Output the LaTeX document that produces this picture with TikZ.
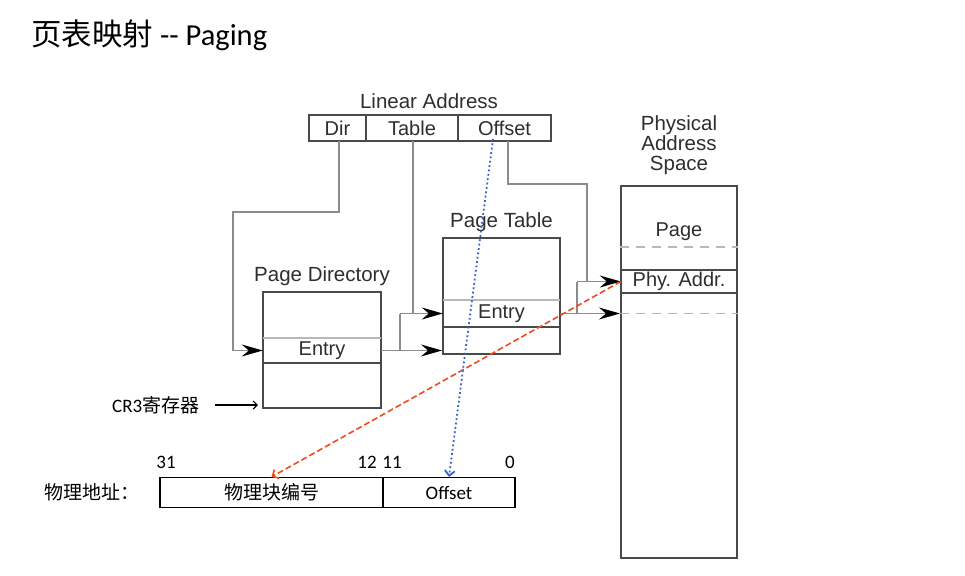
\documentclass[tikz,border=0pt]{standalone}
\usepackage{fontspec}
\setmainfont{Carlito}
\newfontfamily\arialf{Liberation Sans}
\newfontfamily\cjk{Noto Sans CJK SC}
\usetikzlibrary{arrows.meta}
\definecolor{boxgray}{HTML}{4A4A4A}
\definecolor{linkgray}{HTML}{8C8C8C}
\definecolor{rowgray}{HTML}{B8B8B8}
\definecolor{txtgray}{HTML}{2E2E2E}
\definecolor{mapred}{HTML}{F04A1E}
\definecolor{mapblue}{HTML}{3462C8}
\tikzset{
  membox/.style={draw=boxgray, line width=2pt, inner sep=0pt},
  field/.style={inner sep=0pt, font=\arialf\fontsize{20}{22}\selectfont, text=txtgray},
  lbl/.style={inner sep=0pt, font=\arialf\fontsize{20.5}{20}\selectfont, text=txtgray},
  plain/.style={inner sep=0pt, font=\fontsize{19}{21}\selectfont, text=black},
  link/.style={draw=linkgray, line width=1.6pt},
  ptr/.style={link, -{Stealth[length=21pt,width=12pt,inset=7pt,color=black]}},
  rowlight/.style={draw=rowgray, line width=1.6pt},
  rowdark/.style={draw=boxgray, line width=1.6pt},
  rowdash/.style={draw=rowgray, line width=1.6pt, dash pattern=on 9pt off 7pt},
  addrbox/.style={draw=black, line width=1.2pt, minimum height=30pt, inner sep=0pt, font=\fontsize{19}{21}\selectfont},
  redmap/.style={draw=mapred, line width=1.6pt, dash pattern=on 6pt off 3pt, -{Straight Barb[length=5pt,width=10pt]}},
  bluemap/.style={draw=mapblue, line width=1.8pt, dash pattern=on 1.8pt off 2.6pt, -{Straight Barb[length=5pt,width=10pt]}}
}

\begin{document}
\begin{tikzpicture}[x=1pt,y=-1pt]
\useasboundingbox (0,0) rectangle (965,575);
\node[anchor=west, inner sep=0pt, font=\fontsize{30.5}{32}\selectfont] (title) at (31,35) {{\cjk 页表映射} -{}- Paging};

% linear address
\node[field, minimum width=57pt, minimum height=26pt] (fdir) at (337.5,128) {Dir};
\node[field, minimum width=92pt, minimum height=26pt] (ftab) at (412,128) {Table};
\node[field, minimum width=93pt, minimum height=26pt] (foff) at (504.5,128) {Offset};
\draw[rowdark] (fdir.north east) -- (fdir.south east);
\draw[rowdark] (ftab.north east) -- (ftab.south east);
\draw[membox] (fdir.north west) rectangle (foff.south east);
\node[lbl, anchor=south] (linlabel) at ([xshift=17pt,yshift=6pt]ftab.north) {Linear Address};

% page directory
\node[membox, minimum width=118pt, minimum height=116pt] (pd) at (322,350) {};
\node[field, minimum width=118pt, minimum height=25pt] (pdentry) at (322,350.5) {Entry};
\draw[rowlight] (pdentry.north west) -- (pdentry.north east);
\draw[rowdark] (pdentry.south west) -- (pdentry.south east);
\node[lbl, anchor=south] (pdlabel) at ([yshift=5pt]pd.north) {Page Directory};

% page table
\node[membox, minimum width=117pt, minimum height=116pt] (pt) at (501.5,295.5) {};
\node[field, minimum width=117pt, minimum height=27pt] (ptentry) at (501.5,313.5) {Entry};
\draw[rowlight] (ptentry.north west) -- (ptentry.north east);
\draw[rowdark] (ptentry.south west) -- (ptentry.south east);
\node[lbl, anchor=south] (ptlabel) at ([yshift=5pt]pt.north) {Page Table};

% physical address space
\node[membox, minimum width=116pt, minimum height=372pt] (phys) at (679,372) {};
\node[field] (page) at (679,232) {Page};
\node[field, minimum width=116pt, minimum height=23pt] (paddr) at (679,281.5) {Phy. Addr.};
\draw[rowdark] (paddr.north west) -- (paddr.north east);
\draw[rowdark] (paddr.south west) -- (paddr.south east);
\draw[rowdash] (phys.west |- 0,247) -- (phys.east |- 0,247);
\draw[rowdash] (phys.west |- ptentry.east) -- (phys.east |- ptentry.east);
\node[lbl, anchor=south, align=center] (physlabel) at ([yshift=10pt]phys.north) {Physical\\Address\\Space};

% connectors
\coordinate (dirbend) at (233,212);
\coordinate (offbend) at (587,184);
\coordinate (ptadd) at (400,330);
\coordinate (phyadd) at (577,300);
\draw[ptr] ([xshift=1.5pt]fdir.south) |- (dirbend) |- (pdentry.west);
\draw[link] ([xshift=1pt]ftab.south) -- ([xshift=1pt]ftab.south |- ptentry.west);
\draw[ptr] (pdentry.east) -- (pt.west |- pdentry.east);
\draw[link] (ptadd |- pdentry.east) -- (ptadd |- ptentry.west);
\draw[ptr] (ptadd |- ptentry.west) -- (ptentry.west);
\draw[link] ([xshift=3.5pt]foff.south) |- (offbend) -- (offbend |- paddr.west);
\draw[link] (phyadd |- paddr.west) -- (phyadd |- ptentry.east);
\draw[ptr] (phyadd |- paddr.west) -- (paddr.west);
\draw[ptr] (ptentry.east) -- (phys.west |- ptentry.east);

% CR3
\node[plain, anchor=west] (cr3) at (112,405) {CR3{\cjk 寄存器}};
\draw[line width=1.2pt, -{Straight Barb[length=4pt,width=8pt]}, shorten <=16pt, shorten >=4pt] (cr3.east) -- (pd.west |- cr3.east);

% physical address
\node[addrbox, minimum width=223pt] (pfn) at (271.5,492.5) {\cjk 物理块编号};
\node[addrbox, minimum width=132pt] (poff) at (449,492.5) {Offset};
\node[plain, anchor=west] (palabel) at (44,492.5) {\cjk 物理地址：};
\node[plain] (b31) at (166,462) {31};
\node[plain] (b12) at (367,462) {12};
\node[plain] (b11) at (392,462) {11};
\node[plain] (b0) at (510,462) {0};

% mappings
\coordinate (offsrc) at (493,139);
\draw[redmap] (paddr.west) -- (pfn.north);
\draw[bluemap] (offsrc) -- (poff.north);
\end{tikzpicture}
\end{document}
